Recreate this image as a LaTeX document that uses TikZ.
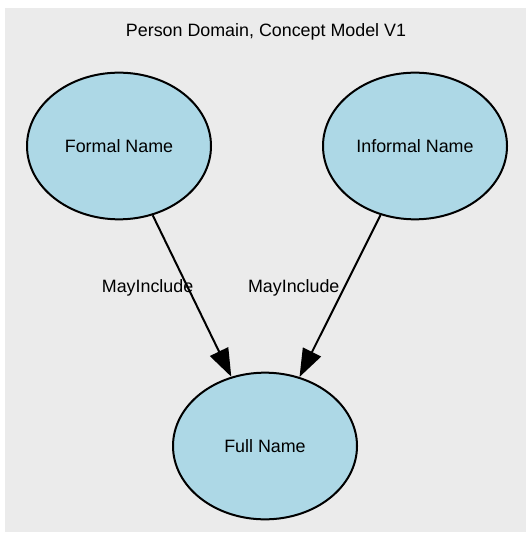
\documentclass[tikz,border=0pt]{standalone}
\usepackage{fontspec}
\setmainfont{Liberation Sans}
\usepackage{tikz}
\usetikzlibrary{shapes, arrows.meta, positioning, backgrounds}
\definecolor{panelgray}{HTML}{EBEBEB}
\definecolor{conceptblue}{HTML}{ADD8E6}
\tikzstyle{concept} = [ellipse, minimum width=138pt, minimum height=110pt, inner sep=0pt, text centered, draw=black, line width=1.5pt, fill=conceptblue]
\tikzstyle{arrow} = [-{Triangle[length=21pt, width=15pt]}, line width=1.5pt]

\begin{document}
\begin{tikzpicture}[x=0.75pt, y=-0.75pt, every node/.append style={font=\fontsize{13.4}{16}\selectfont}]

    \useasboundingbox (0, 0) rectangle (526, 534);
    \fill [panelgray] (5, 8) rectangle (526, 532);

    \node (title) at (266, 31.5) {Person Domain, Concept Model V1};

    \node (formal) [concept] at (119, 146) {Formal Name};
    \node (informal) [concept] at (415, 146) {Informal Name};
    \node (full) [concept] at (265, 446) {Full Name};

    \draw [arrow] (formal) -- node[pos=0.452, xshift=-30.5pt] {MayInclude} (full);
    \draw [arrow] (informal) -- node[pos=0.452, xshift=-37.6pt] {MayInclude} (full);

\end{tikzpicture}
\end{document}
